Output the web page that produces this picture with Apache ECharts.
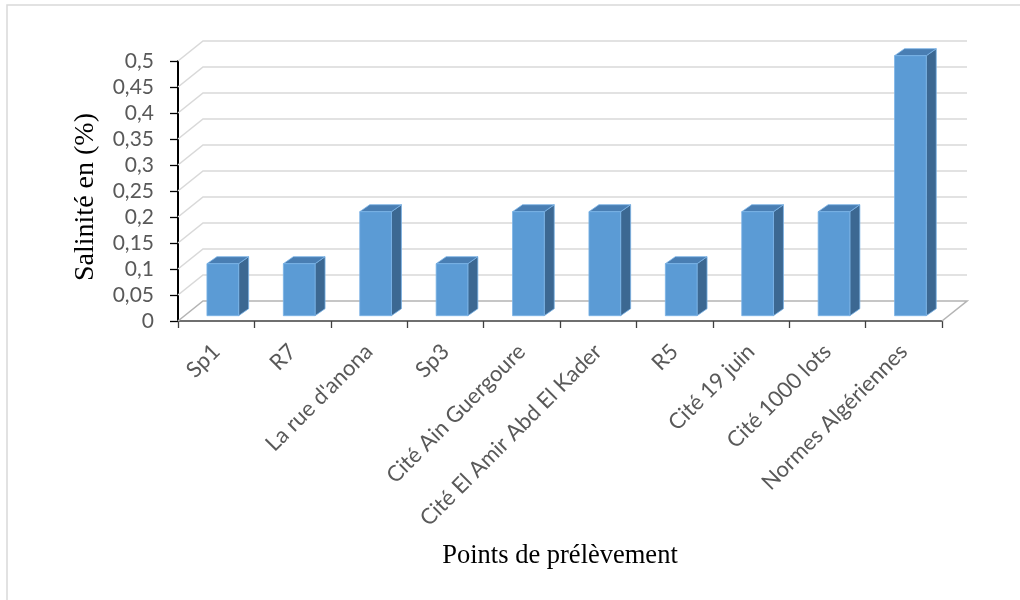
<!DOCTYPE html>
<html>
<head>
<meta charset="utf-8">
<script src="https://cdn.jsdelivr.net/npm/echarts@6/dist/echarts.min.js"></script>
<style>
  html, body { margin: 0; padding: 0; background: #ffffff; }
  #chart { width: 1020px; height: 600px; }
</style>
</head>
<body>
<div id="chart"></div>
<script>
// Sampling points and their salinity (%)
const categories = [
  'Sp1', 'R7', "La rue d'anona", 'Sp3', 'Cité Ain Guergoure',
  'Cité El Amir Abd El Kader', 'R5', 'Cité 19 juin', 'Cité 1000 lots',
  'Normes Algériennes'
];
const salinity = [0.1, 0.1, 0.2, 0.1, 0.2, 0.2, 0.1, 0.2, 0.2, 0.5];
const yTicks = [0, 0.05, 0.1, 0.15, 0.2, 0.25, 0.3, 0.35, 0.4, 0.45, 0.5];

// Oblique projection used for the pseudo-3D walls and boxes
const WALL_DX = 25, WALL_DY = -20;   // back wall offset
const BAR_OX = 6.6, BAR_OY = -5.3;   // bar front face offset from front plane
const BAR_DX = 10, BAR_DY = -7;      // bar depth
const BAR_RATIO = 0.415;             // bar width as share of category band

const chart = echarts.init(document.getElementById('chart'), null, { renderer: 'canvas' });

function wallRender(params, api) {
  const cs = params.coordSys;
  const v = api.value(1);
  const y = api.coord([0, v])[1];
  const left = cs.x, right = cs.x + cs.width;
  const isFloor = v === 0;
  const pts = [[left, y], [left + WALL_DX, y + WALL_DY], [right + WALL_DX, y + WALL_DY]];
  if (isFloor) pts.push([right, y]);
  return {
    type: 'polyline',
    shape: { points: pts },
    style: { stroke: isFloor ? '#b4b4b4' : '#d9d9d9', lineWidth: 1.6, fill: null },
    silent: true
  };
}

function barRender(params, api) {
  const base = api.coord([api.value(0), 0]);
  const top = api.coord([api.value(0), api.value(1)]);
  const bw = api.size([1, 0])[0] * BAR_RATIO;
  const x0 = base[0] + BAR_OX - bw / 2;
  const x1 = x0 + bw;
  const yb = base[1] + BAR_OY;
  const yt = top[1] + BAR_OY;
  const edge = '#7ab2e6';
  return {
    type: 'group',
    children: [
      {
        type: 'polygon',
        shape: { points: [[x1, yt], [x1 + BAR_DX, yt + BAR_DY], [x1 + BAR_DX, yb + BAR_DY], [x1, yb]] },
        style: { fill: '#3c6892', stroke: edge, lineWidth: 0.8 }
      },
      {
        type: 'polygon',
        shape: { points: [[x0, yt], [x0 + BAR_DX, yt + BAR_DY], [x1 + BAR_DX, yt + BAR_DY], [x1, yt]] },
        style: { fill: '#497eb3', stroke: edge, lineWidth: 0.8 }
      },
      {
        type: 'rect',
        shape: { x: x0, y: yt, width: bw, height: yb - yt },
        style: { fill: '#5b9bd5', stroke: edge, lineWidth: 0.8 }
      }
    ]
  };
}

const option = {
  backgroundColor: '#ffffff',
  animation: false,
  graphic: [{
    type: 'rect',
    shape: { x: 7, y: 5, width: 1030, height: 610 },
    style: { fill: null, stroke: '#d9d9d9', lineWidth: 1.5 },
    silent: true,
    z: -10
  }],
  grid: { left: 178, right: 78, top: 61, bottom: 279, containLabel: false },
  xAxis: {
    type: 'category',
    data: categories,
    boundaryGap: true,
    name: 'Points de prélèvement',
    nameLocation: 'middle',
    nameGap: 222,
    nameTextStyle: { fontFamily: 'Liberation Serif', fontSize: 26.5, color: '#000000' },
    axisLine: { show: true, lineStyle: { color: '#404040', width: 1.6 } },
    axisTick: { show: true, length: 7, lineStyle: { color: '#404040', width: 1.3 } },
    axisLabel: {
      rotate: 45,
      interval: 0,
      margin: 27,
      fontFamily: 'Lato',
      fontSize: 22,
      color: '#595959'
    },
    splitLine: { show: false }
  },
  yAxis: {
    type: 'value',
    min: 0,
    max: 0.5,
    interval: 0.05,
    name: 'Salinité en (%)',
    nameLocation: 'middle',
    nameRotate: 90,
    nameGap: 78,
    nameTextStyle: {
      fontFamily: 'Liberation Serif',
      fontSize: 28,
      color: '#000000',
      padding: [0, 12, 0, 0]
    },
    axisLine: { show: true, lineStyle: { color: '#000000', width: 2 } },
    axisTick: { show: true, length: 8, lineStyle: { color: '#000000', width: 1.3 } },
    axisLabel: {
      margin: 24,
      fontFamily: 'Lato',
      fontSize: 21,
      color: '#595959',
      formatter: v => String(+v.toFixed(2)).replace('.', ',')
    },
    splitLine: { show: false }
  },
  series: [
    {
      type: 'custom',
      name: 'walls',
      renderItem: wallRender,
      data: yTicks.map(v => [0, v]),
      clip: false,
      silent: true,
      z: 1
    },
    {
      type: 'custom',
      name: 'Salinité',
      renderItem: barRender,
      data: salinity.map((v, i) => [i, v]),
      clip: false,
      z: 3
    }
  ]
};

chart.setOption(option);
</script>
</body>
</html>
